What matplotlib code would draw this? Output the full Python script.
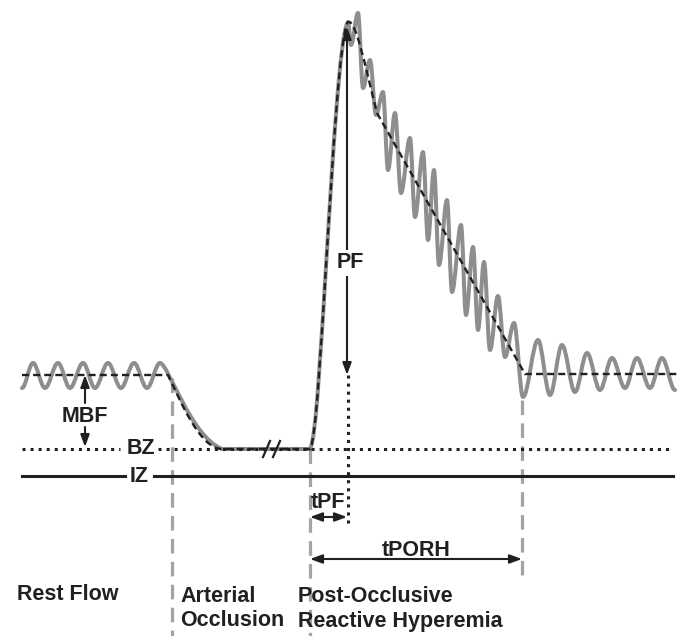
import matplotlib
matplotlib.use("Agg")
import matplotlib.pyplot as plt
from matplotlib.path import Path
from matplotlib.patches import PathPatch

plt.rcParams['lines.scale_dashes'] = False
plt.rcParams['font.family'] = ['Liberation Sans', 'DejaVu Sans']

# flow levels (arbitrary units, instrumental zero = 0)
IZ = 0
BZ = 27
REST = 101
PEAK = 454

# event times (arbitrary units)
t_start = 22
t_occlusion = 172
t_release = 310
t_peak = 348
t_recovered = 522

# resting flow oscillation, alternating troughs / peaks
rest_t = [22, 33, 45, 58, 70, 83, 95, 108, 121, 134, 147, 160]
rest_f = [88, 113, 88, 113, 88, 113, 88, 113, 88, 113, 88, 113]

# hyperemic decay with vasomotion
decay_t = [348, 351, 358, 363, 370, 376, 383, 388, 395, 401, 410, 415, 423, 428,
           434, 439, 447, 452, 461, 466, 473, 478, 484, 490, 498, 505, 514, 523]
decay_f = [454, 431, 463, 388, 416, 361, 384, 306, 363, 283, 338, 259, 324, 236,
           306, 211, 276, 184, 251, 161, 229, 146, 214, 126, 180, 119, 153, 79]

# back at rest
recov_t = [523, 538, 550, 562, 575, 587, 600, 612, 625, 637, 650, 662, 675]
recov_f = [79, 136, 81, 131, 84, 123, 86, 118, 88, 118, 88, 118, 86]

# mean flow trace (dashed)
fall_knots = [(168, REST), (180, 76), (200, BZ), (222, BZ)]
rise_knots = [(t_release, BZ), (316, 35), (321, 130), (327, 226),
              (332, 306), (340, 446), (t_peak, PEAK)]
decay_knots = [(t_peak, PEAK), (356, 457), (365, 410), (377, 363)]

ink = '#231f20'
trace_grey = '#8e8e8e'
guide_grey = '#a3a3a3'
FS = 15.5


def add_waves(verts, codes, ts, fs):
    # half-wave cubic segments between successive extrema
    for t0, f0, t1, f1 in zip(ts[:-1], fs[:-1], ts[1:], fs[1:]):
        d = t1 - t0
        verts += [(t0 + 0.36 * d, f0), (t1 - 0.36 * d, f1), (t1, f1)]
        codes += [Path.CURVE4] * 3


def add_curve(verts, codes, knots):
    for p in knots[1:]:
        verts.append(p)
        codes.append(Path.CURVE4)


fig = plt.figure(figsize=(6.89, 6.36), dpi=100)
ax = fig.add_axes([0, 0, 1, 1])
ax.set_xlim(0, 689)
ax.set_ylim(IZ - 160, 476)
ax.axis('off')

# gray measured trace
verts = [(rest_t[0], rest_f[0])]
codes = [Path.MOVETO]
add_waves(verts, codes, rest_t, rest_f)
verts += [(168, 113), (190, 40), (222, BZ)]
codes += [Path.CURVE4] * 3
verts.append((t_release, BZ))
codes.append(Path.LINETO)
add_curve(verts, codes, rise_knots)
add_waves(verts, codes, decay_t, decay_f)
add_waves(verts, codes, recov_t, recov_f)
ax.add_patch(PathPatch(Path(verts, codes), fill=False, edgecolor=trace_grey,
                       lw=2.9, capstyle='round', joinstyle='round', zorder=2))

# dashed mean trace
verts = [(t_start, REST), (168, REST)]
codes = [Path.MOVETO, Path.LINETO]
add_curve(verts, codes, fall_knots)
verts.append((t_release, BZ))
codes.append(Path.LINETO)
add_curve(verts, codes, rise_knots)
add_curve(verts, codes, decay_knots)
verts += [(525, 102), (677, 102)]
codes += [Path.LINETO, Path.LINETO]
ax.add_patch(PathPatch(Path(verts, codes), fill=False, edgecolor=ink, lw=1.7,
                       linestyle=(0, (5, 3)), zorder=3))

# break marks on the occlusion plateau
for x in (263, 273):
    ax.plot([x, x + 7], [19, 35], color=ink, lw=1.6, zorder=4)

# zero lines
dots = (0, (2.2, 3.6))
ax.plot([t_start, 120], [BZ, BZ], color=ink, lw=2.2, linestyle=dots)
ax.plot([158, 673], [BZ, BZ], color=ink, lw=2.2, linestyle=dots)
ax.plot([t_start, 125], [IZ, IZ], color=ink, lw=2.2)
ax.plot([154, 673], [IZ, IZ], color=ink, lw=2.2)
ax.text(141, BZ, 'BZ', fontsize=FS, weight='bold', color=ink, ha='center', va='center')
ax.text(139, IZ, 'IZ', fontsize=FS, weight='bold', color=ink, ha='center', va='center')

# phase boundaries
vdash = (0, (10.5, 6))
ax.plot([t_occlusion, t_occlusion], [98, -160], color=guide_grey, lw=2.3, linestyle=vdash, zorder=1)
ax.plot([t_release, t_release], [BZ, -160], color=guide_grey, lw=2.3, linestyle=vdash, zorder=1)
ax.plot([t_recovered, t_recovered], [76, -101], color=guide_grey, lw=2.3, linestyle=vdash, zorder=1)

# peak time marker
ax.plot([t_peak, t_peak], [REST, -51], color=ink, lw=2.2, linestyle=dots)

arrow1 = dict(arrowstyle='-|>,head_length=0.6,head_width=0.22', color=ink, lw=1.5,
              shrinkA=0, shrinkB=0, mutation_scale=12)
arrow2 = dict(arrowstyle='<|-|>,head_length=0.6,head_width=0.22', color=ink, lw=1.5,
              shrinkA=0, shrinkB=0, mutation_scale=12)

# MBF
ax.annotate('', xy=(85, REST), xytext=(85, 73), arrowprops=arrow1)
ax.annotate('', xy=(85, BZ + 2), xytext=(85, 49), arrowprops=arrow1)
ax.text(85, 60, 'MBF', fontsize=FS, weight='bold', color=ink, ha='center', va='center')

# PF
ax.annotate('', xy=(t_peak - 1, 449), xytext=(t_peak - 1, REST), arrowprops=arrow2, zorder=4)
ax.text(350, 213, 'PF', fontsize=FS, weight='bold', color=ink, ha='center', va='center',
        bbox=dict(facecolor='white', edgecolor='none', pad=1.5), zorder=5)

# tPF and tPORH
ax.annotate('', xy=(t_peak - 1, -41), xytext=(t_release, -41), arrowprops=arrow2)
ax.text(328, -26, 'tPF', fontsize=FS, weight='bold', color=ink, ha='center', va='center')
ax.annotate('', xy=(t_recovered, -83), xytext=(t_release, -83), arrowprops=arrow2)
ax.text(416, -75, 'tPORH', fontsize=FS, weight='bold', color=ink, ha='center', va='center')

# phase names
ax.text(17, -119, 'Rest Flow', fontsize=FS, weight='bold', color=ink, ha='left', va='center')
ax.text(180, -132.5, 'Arterial\nOcclusion', fontsize=FS, weight='bold', color=ink,
        ha='left', va='center', linespacing=1.25)
ax.text(298, -132.5, 'Post-Occlusive\nReactive Hyperemia', fontsize=FS, weight='bold',
        color=ink, ha='left', va='center', linespacing=1.25)

fig.savefig('out.png', dpi=100)
